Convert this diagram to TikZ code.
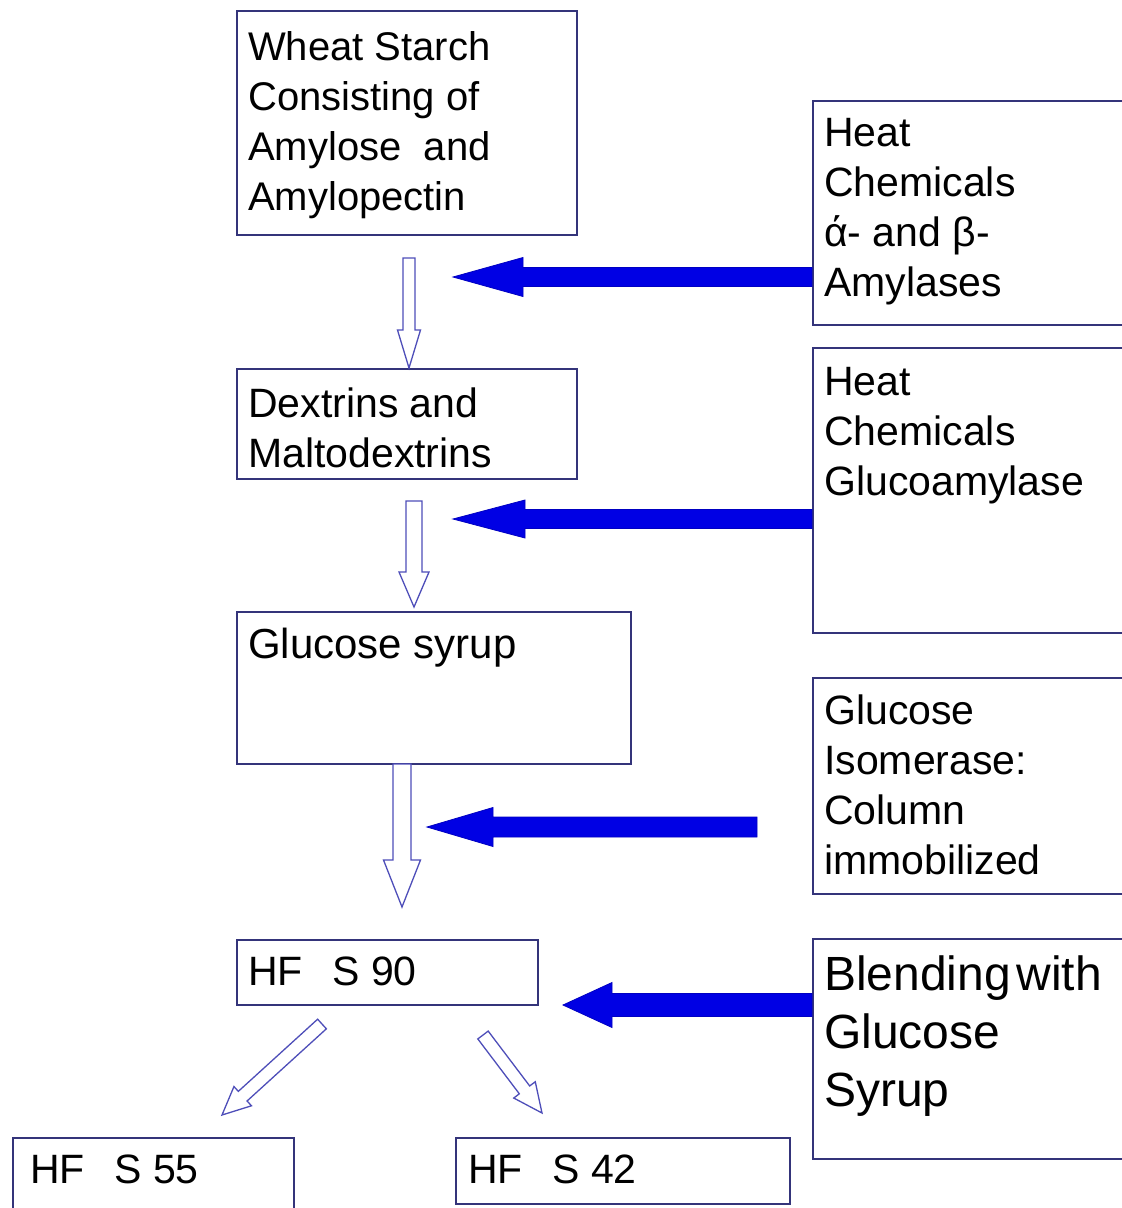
\documentclass[tikz,border=0pt]{standalone}
\usepackage{fontspec}
\setmainfont{Liberation Sans}
\usetikzlibrary{calc}
\definecolor{boxc}{RGB}{52,52,122}
\definecolor{hollowc}{RGB}{78,78,185}
\definecolor{solidc}{RGB}{0,0,228}
\newcommand\txtlines[1]{\begin{tabular}[t]{@{}l@{}}#1\end{tabular}}
% #1 style, #2 tail, #3 tip, #4 shaft half width, #5 head half width, #6 head length
\newcommand\blockarrow[6]{%
  \coordinate (ba-h) at ($(#3)!#6!(#2)$);
  \draw[#1] ($(#2)!#4!90:(#3)$) -- ($(ba-h)!#4!-90:(#2)$) -- ($(ba-h)!#5!-90:(#2)$)
    -- (#3) -- ($(ba-h)!#5!90:(#2)$) -- ($(ba-h)!#4!90:(#2)$) -- ($(#2)!#4!-90:(#3)$) -- cycle;
}
\begin{document}
\begin{tikzpicture}[x=1pt,y=-1pt,
  box/.style={draw=boxc, line width=1.5pt, anchor=north west, inner sep=0pt, fill=white},
  txt/.style={anchor=base west, inner sep=0pt, font=\fontsize{41}{50}\selectfont},
  bigtxt/.style={anchor=base west, inner sep=0pt, font=\fontsize{48}{58}\selectfont},
  hollow/.style={draw=hollowc, line width=1.3pt, fill=white, line join=miter},
  solid/.style={fill=solidc, draw=solidc!85!black, line width=0.8pt, line join=miter}]
\useasboundingbox (0,0) rectangle (1122,1208);
\clip (0,0) rectangle (1122,1208);
\fill[white] (0,0) rectangle (1122,1208);

% left column boxes
\node[box, minimum width=340pt, minimum height=224pt] (wheat) at (236,10) {};
\node[box, minimum width=340pt, minimum height=110pt] (dex) at (236,368) {};
\node[box, minimum width=394pt, minimum height=152pt] (gs) at (236,611) {};
\node[box, minimum width=301pt, minimum height=65pt] (h90) at (236,939) {};
\node[box, minimum width=281pt, minimum height=90pt] (h55) at (12,1137) {};
\node[box, minimum width=334pt, minimum height=66pt] (h42) at (455,1137) {};

% right column boxes
\node[box, minimum width=330pt, minimum height=224pt] (r1) at (812,100) {};
\node[box, minimum width=330pt, minimum height=285pt] (r2) at (812,347) {};
\node[box, minimum width=330pt, minimum height=216pt] (r3) at (812,677) {};
\node[box, minimum width=330pt, minimum height=220pt] (r4) at (812,938) {};

% texts
\node[txt, font=\fontsize{40}{50}\selectfont] (wheatT) at (248,60) {\txtlines{Wheat Starch\\Consisting of\\Amylose\ \ and\\Amylopectin}};
\node[txt] (dexT) at (248,417) {\txtlines{Dextrins and\\Maltodextrins}};
\node[txt, font=\fontsize{42}{50}\selectfont] (gsT) at (248,658) {Glucose syrup};
\node[txt] (h90T) at (248,985) {HF\hspace{0.72em}S 90};
\node[txt] (h55T) at (30,1183) {HF\hspace{0.72em}S 55};
\node[txt] (h42T) at (468,1183) {HF\hspace{0.72em}S 42};

\node[txt] (r1T) at (824,146) {\txtlines{Heat\\Chemicals\\ά- and β-\\Amylases}};
\node[txt] (r2T) at (824,395) {\txtlines{Heat\\Chemicals\\Glucoamylase}};
\node[txt] (r3T) at (824,724) {\txtlines{Glucose\\Isomerase:\\Column\\immobilized}};
\node[bigtxt] (r4T) at (824,990) {\txtlines{Blending\hspace{0.12em}with\\Glucose\\Syrup}};

% hollow flow arrows
\coordinate (a1t) at (409,258);  \coordinate (a1h) at (409,368);
\coordinate (a2t) at (414,501);  \coordinate (a2h) at (414,607);
\coordinate (a3t) at (402,764);  \coordinate (a3h) at (402,907);
\coordinate (a4t) at (322,1024); \coordinate (a4h) at (222,1115);
\coordinate (a5t) at (483,1035); \coordinate (a5h) at (542,1113);
\blockarrow{hollow}{a1t}{a1h}{6pt}{11.5pt}{38pt}
\blockarrow{hollow}{a2t}{a2h}{8pt}{15pt}{35pt}
\blockarrow{hollow}{a3t}{a3h}{9pt}{18.5pt}{47pt}
\blockarrow{hollow}{a4t}{a4h}{6.5pt}{13pt}{28pt}
\blockarrow{hollow}{a5t}{a5h}{6.5pt}{13.5pt}{29pt}

% solid input arrows
\coordinate (s1t) at (812,277);  \coordinate (s1h) at (453,277);
\coordinate (s2t) at (812,519);  \coordinate (s2h) at (453,519);
\coordinate (s3t) at (757,827);  \coordinate (s3h) at (427,827);
\coordinate (s4t) at (812,1005); \coordinate (s4h) at (563,1005);
\blockarrow{solid}{s1t}{s1h}{9.5pt}{19.5pt}{70pt}
\blockarrow{solid}{s2t}{s2h}{9.5pt}{19pt}{72pt}
\blockarrow{solid}{s3t}{s3h}{10pt}{19.5pt}{66pt}
\blockarrow{solid}{s4t}{s4h}{11.5pt}{22.5pt}{49pt}
\end{tikzpicture}
\end{document}
